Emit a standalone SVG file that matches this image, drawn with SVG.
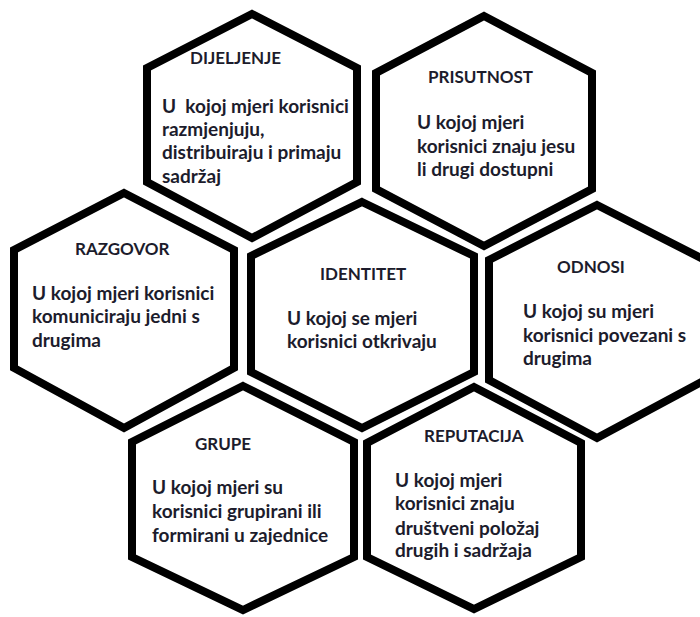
<svg xmlns="http://www.w3.org/2000/svg" width="700" height="617" viewBox="0 0 700 617">
<style>
.hex{fill:#ffffff;stroke:#000000;stroke-width:8;stroke-linejoin:miter}
.h{font-family:Lato,"Open Sans","Liberation Sans",sans-serif;font-weight:bold;font-size:17px;fill:#1c1c2c}
.t{font-family:Lato,"Open Sans","Liberation Sans",sans-serif;font-weight:bold;font-size:19px;fill:#1c1c2c}
</style>
<rect width="700" height="617" fill="#ffffff"/>
<g id="connectors"/>
<g id="dijeljenje">
<polygon class="hex" points="252,14 357,68 357,182 252,238 147,182 147,68"/>
<text class="h" x="190" y="64">DIJELJENJE</text>
<text class="t" x="162" y="113" xml:space="preserve">U  kojoj mjeri korisnici</text>
<text class="t" x="162" y="136">razmjenjuju,</text>
<text class="t" x="162" y="159">distribuiraju i primaju</text>
<text class="t" x="162" y="183">sadržaj</text>
</g>
<g id="prisutnost">
<polygon class="hex" points="484,16 592,73 592,189 484,246 376,189 376,73"/>
<text class="h" x="428" y="83">PRISUTNOST</text>
<text class="t" x="417" y="129">U kojoj mjeri</text>
<text class="t" x="417" y="153">korisnici znaju jesu</text>
<text class="t" x="417" y="176">li drugi dostupni</text>
</g>
<g id="razgovor">
<polygon class="hex" points="124,193 234,250 234,368 124,428 14,368 14,250"/>
<text class="h" x="75" y="255">RAZGOVOR</text>
<text class="t" x="32" y="300">U kojoj mjeri korisnici</text>
<text class="t" x="32" y="323">komuniciraju jedni s</text>
<text class="t" x="32" y="347">drugima</text>
</g>
<g id="identitet">
<polygon class="hex" points="362,202 474,256 474,372 362,428 251,372 251,256"/>
<text class="h" x="320" y="280">IDENTITET</text>
<text class="t" x="287" y="325">U kojoj se mjeri</text>
<text class="t" x="287" y="348">korisnici otkrivaju</text>
</g>
<g id="odnosi">
<polygon class="hex" points="597,205 705,260 705,380 597,438 489,380 489,260"/>
<text class="h" x="557" y="273">ODNOSI</text>
<text class="t" x="523" y="318">U kojoj su mjeri</text>
<text class="t" x="523" y="342">korisnici povezani s</text>
<text class="t" x="523" y="365">drugima</text>
</g>
<g id="grupe">
<polygon class="hex" points="243,386 354,442 354,557 243,610 132,557 132,442"/>
<text class="h" x="195" y="450">GRUPE</text>
<text class="t" x="152" y="494">U kojoj mjeri su</text>
<text class="t" x="152" y="518">korisnici grupirani ili</text>
<text class="t" x="152" y="542">formirani u zajednice</text>
</g>
<g id="reputacija">
<polygon class="hex" points="474,387 581,443 581,557 474,609 367,557 367,443"/>
<text class="h" x="424" y="442">REPUTACIJA</text>
<text class="t" x="395" y="487">U kojoj mjeri</text>
<text class="t" x="395" y="510">korisnici znaju</text>
<text class="t" x="395" y="535">društveni položaj</text>
<text class="t" x="395" y="557">drugih i sadržaja</text>
</g>
</svg>
